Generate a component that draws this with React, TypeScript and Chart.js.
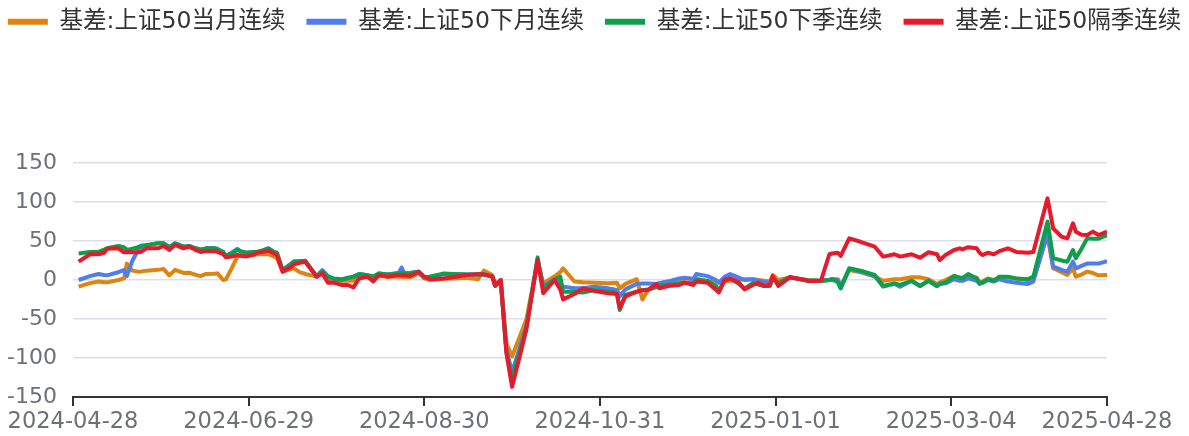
import React, { useEffect, useRef } from 'react';
import { Chart, registerables } from 'chart.js';

Chart.register(...registerables);

const seriesNames = ['基差:上证50当月连续', '基差:上证50下月连续', '基差:上证50下季连续', '基差:上证50隔季连续'];
const seriesColors = ['#DD8512', '#4F7DEB', '#0E9F4B', '#E6192D'];

const xStart = '2024-04-28';
const xEnd = '2025-04-28';
const xTickDates = ['2024-04-28', '2024-06-29', '2024-08-30', '2024-10-31', '2025-01-01', '2025-03-04', '2025-04-28'];
const yMin = -150;
const yMax = 150;
const yStep = 50;

const dates = [
  '2024-04-30', '2024-05-04', '2024-05-07', '2024-05-09', '2024-05-10', '2024-05-14', '2024-05-16', '2024-05-17',
  '2024-05-19', '2024-05-21', '2024-05-22', '2024-05-24', '2024-05-26', '2024-05-28', '2024-05-30', '2024-06-01',
  '2024-06-03', '2024-06-06', '2024-06-08', '2024-06-10', '2024-06-12', '2024-06-14', '2024-06-17', '2024-06-18',
  '2024-06-20', '2024-06-21', '2024-06-23', '2024-06-25', '2024-06-26', '2024-06-28', '2024-07-01', '2024-07-02',
  '2024-07-04', '2024-07-06', '2024-07-08', '2024-07-09', '2024-07-11', '2024-07-14', '2024-07-15', '2024-07-17',
  '2024-07-19', '2024-07-23', '2024-07-25', '2024-07-27', '2024-07-29', '2024-08-01', '2024-08-03', '2024-08-05',
  '2024-08-07', '2024-08-10', '2024-08-12', '2024-08-14', '2024-08-17', '2024-08-21', '2024-08-22', '2024-08-23',
  '2024-08-25', '2024-08-28', '2024-08-30', '2024-09-01', '2024-09-06', '2024-09-09', '2024-09-14', '2024-09-18',
  '2024-09-20', '2024-09-23', '2024-09-24', '2024-09-26', '2024-09-28', '2024-09-30', '2024-10-05', '2024-10-09',
  '2024-10-11', '2024-10-15', '2024-10-17', '2024-10-18', '2024-10-22', '2024-10-25', '2024-10-29', '2024-11-03',
  '2024-11-06', '2024-11-07', '2024-11-09', '2024-11-13', '2024-11-15', '2024-11-17', '2024-11-20', '2024-11-21',
  '2024-11-24', '2024-11-28', '2024-11-30', '2024-12-03', '2024-12-04', '2024-12-08', '2024-12-11', '2024-12-12',
  '2024-12-14', '2024-12-16', '2024-12-19', '2024-12-21', '2024-12-24', '2024-12-26', '2024-12-28', '2024-12-30',
  '2024-12-31', '2025-01-02', '2025-01-06', '2025-01-10', '2025-01-13', '2025-01-17', '2025-01-20', '2025-01-21',
  '2025-01-23', '2025-01-24', '2025-01-27', '2025-01-31', '2025-02-05', '2025-02-08', '2025-02-12', '2025-02-14',
  '2025-02-18', '2025-02-21', '2025-02-24', '2025-02-27', '2025-02-28', '2025-03-02', '2025-03-05', '2025-03-07',
  '2025-03-08', '2025-03-10', '2025-03-13', '2025-03-14', '2025-03-15', '2025-03-17', '2025-03-19', '2025-03-21',
  '2025-03-24', '2025-03-27', '2025-03-31', '2025-04-02', '2025-04-07', '2025-04-09', '2025-04-12', '2025-04-14',
  '2025-04-16', '2025-04-17', '2025-04-19', '2025-04-21', '2025-04-23', '2025-04-25', '2025-04-28',
];

const currentMonth = [
  -8.5, -4, -2, -3, -3, 0, 2, 21,
  12, 10.7, 11, 12, 12.5, 13, 14, 6,
  13, 9, 9.4, 7, 5, 7.7, 8, 8.5,
  0, 1, 15, 30, 32, 31, 32, 33,
  33, 33, 30, 28, 10.7, 14, 15, 10,
  7.7, 4.3, 9.4, 0, -1, -1, -1, -1,
  3, 4.3, 3, 5, 4.3, 4.3, 4, 4,
  3.4, 8.5, 2, 0, 1.5, 2, 3, 1,
  12, 6.4, -3.4, -3, -81, -98, -51, 23.5,
  -4.3, 5, 10, 15, -2, -3, -3.4, -4.3,
  -3.4, -10.7, -5, 1, -24.8, -12.8, -8.5, -4,
  -2, -2, 2, 2, 2, -2, -3, -3.4,
  -2, -1, 0, 1, 1, 0, -1, -2,
  6.4, 0, 3.4, 1, 0, -1, 0, 1,
  1, -8, 12.8, 10, 4.3, -1, 1, 1,
  3.4, 3.4, 1, -5, -3, 0, 5.5, 3,
  3, 6, 3, -3, -2, 2, 0, 3,
  3, 2, 0, 0, 57.7, 15, 10, 6.4,
  15, 4.3, 7, 10.7, 9, 6, 6.4,
];

const nextMonth = [
  0, 5, 7.7, 6.5, 6, 10, 12.8, 5,
  25, 38.5, 42, 44, 46, 47, 47, 42,
  47, 42.7, 43.6, 41, 39, 40.6, 40.6, 40,
  36, 31, 35, 40, 37, 35, 36, 36,
  38, 40.6, 36, 33, 13, 21, 24, 24,
  23.5, 5, 12.8, 5, 1, 0, 2, 4,
  7.7, 6, 4.3, 8.5, 7, 9.4, 16, 8.5,
  9, 10.7, 3, 4.3, 7, 7.7, 7, 7.3,
  7.5, 5, -7, -2, -90, -118, -60, 26,
  -8.5, 1, -4, -8.5, -10.7, -10.7, -8.5, -10.7,
  -12.8, -21, -12, -5, -4.5, -4.5, -5, -4,
  -2, 2, 3, 1, 7.7, 5, 0, -3.4,
  4, 7.7, 3, 0, 1, -1, -2.5, -3.4,
  2, -4.3, 3.4, 1, -1, -1, 0, 1,
  0, -10, 14, 11, 5, -8.5, -5, -8.5,
  -1, -7.7, -1, -8, -5, -4.3, 1, -1,
  -1, 2, -1, -5, -4, 0, -2, 1,
  -2, -3.4, -5, -2, 60, 17, 13, 10.7,
  23.5, 15, 18, 21, 21, 21, 24,
];

const nextQuarter = [
  34, 36, 36, 39, 40.6, 43.6, 42, 38.5,
  40, 42, 44, 45, 46, 47, 47, 42,
  47, 42.7, 43.6, 41, 39, 40.6, 40.6, 39,
  36, 31, 34, 38.5, 37, 35, 36, 36,
  38, 40.6, 36, 35, 12.8, 20, 23.5, 24,
  24.8, 4.3, 10.7, 4.3, 2, 1, 3, 4.3,
  7.7, 6, 4.3, 8.5, 7, 8.5, 9, 8.5,
  9, 10.7, 4, 4.3, 8.5, 7.7, 7, 7,
  7, 4.3, -7, 0, -92, -127, -62, 29,
  -10.7, 1, 4.3, -15, -15, -16, -12.8, -15,
  -17, -38.5, -19, -15, -13, -12, -9, -7,
  -6, -4.5, -3.4, -4.3, 0.4, -1, -8, -14,
  -1, 2, -5, -11, -4, -6, -7.7, -7.7,
  2, -4.3, 3.4, 1, -1, -1, 0, 1,
  -3, -10.7, 15, 12, 6.4, -7.7, -4.3, -6.4,
  -1, -7.7, -1, -7.7, -5, -3.4, 5, 3,
  2, 7.7, 2, -4.3, -3, 1, -1, 4.3,
  4.3, 2, 1, 4.3, 74.8, 28, 25, 23.5,
  38.5, 27.8, 40, 53.4, 53, 53, 57.7,
];

const farQuarter = [
  23.5, 33, 33, 35, 40, 40.6, 35.5, 35.5,
  35.5, 35.5, 36, 40.6, 40.6, 40.6, 43.6, 38.5,
  45, 40.6, 42.7, 39, 36, 37, 37, 36,
  33, 29, 30, 32, 31, 30, 33, 35,
  36, 37.6, 34, 32, 10.7, 17, 20, 22,
  23.5, 4.3, 8.5, -3.4, -3.4, -6.4, -6.4, -9.4,
  2, 4.3, -2, 6.4, 4.3, 6.4, 6, 6,
  5, 10.7, 4, 1, 2, 3.4, 6.4, 7.3,
  7.3, 4.3, -7.7, 0, -94, -137, -64, 25.6,
  -17, 0, -12, -24.8, -18, -10.7, -14, -17,
  -18, -36, -21, -15, -13, -12.8, -5, -10.7,
  -7.7, -6.4, -3.4, -6.4, -2, -3.4, -12.8, -16,
  0.4, 2, -3, -12, -6.4, -3.4, -7.7, -6.4,
  5, -7.7, 3.4, 1, -1.7, -1, 33, 34,
  35, 30.8, 53.4, 49, 42.7, 30, 33, 30,
  33, 28.6, 35.5, 33, 25.6, 32, 38.5, 40.6,
  39.3, 42, 40.6, 35, 32, 35, 33, 37,
  40.6, 36, 35, 36, 104.7, 66, 55.5, 53.4,
  72.7, 62, 58, 57.7, 62, 57.7, 62,
];

const toTs = (d: string) => Date.parse(d + 'T00:00:00Z');
const fmtTs = (v: number) => new Date(v).toISOString().slice(0, 10);

const FONT = "'DejaVu Sans', 'Noto Sans CJK SC', sans-serif";
const SIDE = 40;

export default function App() {
  const ref = useRef<HTMLCanvasElement>(null);

  useEffect(() => {
    const canvas = ref.current;
    if (!canvas) return;
    const seriesValues = [currentMonth, nextMonth, nextQuarter, farQuarter];

    const legendSpacer = {
      id: 'legendSpacer',
      beforeInit(chart: any) {
        const legend = chart.legend;
        if (!legend) return;
        const origFit = legend.fit;
        legend.fit = function () {
          origFit.call(this);
          this.height = 174;
        };
      },
    };

    const chart = new Chart(canvas, {
      type: 'line',
      data: {
        datasets: seriesValues.map((vals, i) => ({
          label: seriesNames[i],
          data: dates.map((d, j) => ({ x: toTs(d), y: vals[j] })),
          borderColor: seriesColors[i],
          backgroundColor: seriesColors[i],
          borderWidth: 4,
          pointRadius: 0,
          pointHoverRadius: 0,
          tension: 0,
          fill: false,
          borderJoinStyle: 'round' as const,
          order: 4 - i,
          yAxisID: 'y',
        })),
      },
      options: {
        animation: false,
        responsive: false,
        devicePixelRatio: 1,
        events: [],
        layout: { padding: { top: -11, left: -SIDE, right: -SIDE, bottom: 0 } },
        plugins: {
          tooltip: { enabled: false },
          legend: {
            position: 'top',
            labels: {
              boxWidth: 40,
              boxHeight: 6,
              padding: 21,
              color: '#333333',
              font: { size: 23.5, family: FONT },
              generateLabels: (c: any) =>
                (Chart.defaults.plugins.legend.labels.generateLabels as any)(c).map((l: any) => ({ ...l, lineWidth: 0 })),
              sort: (a: any, b: any) => a.datasetIndex - b.datasetIndex,
            },
          },
        },
        scales: {
          x: {
            type: 'linear',
            position: 'bottom',
            min: toTs(xStart),
            max: toTs(xEnd),
            afterBuildTicks: (scale: any) => {
              scale.ticks = xTickDates.map((d) => ({ value: toTs(d) }));
            },
            afterFit: (scale: any) => {
              scale.height = 39;
            },
            ticks: {
              autoSkip: false,
              maxRotation: 0,
              minRotation: 0,
              color: '#6E7079',
              font: { size: 22.5, family: FONT },
              padding: 3,
              callback: (v: any) => fmtTs(Number(v)),
            },
            grid: { drawOnChartArea: false, drawTicks: true, tickLength: 9, color: '#333333', lineWidth: 2 },
            border: { display: true, color: '#333333', width: 2 },
          },
          y: {
            type: 'linear',
            position: 'left',
            min: yMin,
            max: yMax,
            afterFit: (scale: any) => {
              scale.width = 73 + SIDE;
            },
            ticks: {
              stepSize: yStep,
              color: '#6E7079',
              font: { size: 22, family: FONT },
              padding: 16,
            },
            grid: {
              drawTicks: false,
              lineWidth: 1.5,
              color: (c: any) => (c.tick && c.tick.value === yMin ? 'rgba(0,0,0,0)' : '#DCDFE8'),
            },
            border: { display: false },
          },
          yRight: {
            type: 'linear',
            position: 'right',
            display: true,
            afterFit: (scale: any) => {
              scale.width = 82 + SIDE;
            },
            ticks: { display: false },
            grid: { display: false, drawOnChartArea: false, drawTicks: false },
            border: { display: false },
          },
        },
      } as any,
      plugins: [legendSpacer],
    });

    return () => chart.destroy();
  }, []);

  return (
    <div style={{ position: 'fixed', left: 0, top: 0, width: 1189, height: 436, background: '#ffffff' }}>
      <canvas ref={ref} width={1189} height={436} style={{ display: 'block', width: 1189, height: 436 }} />
    </div>
  );
}
